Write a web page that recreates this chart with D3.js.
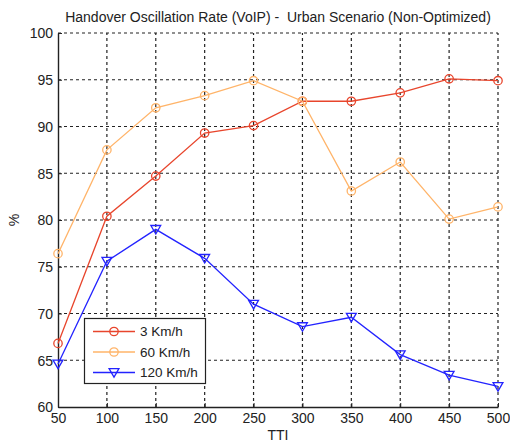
<!DOCTYPE html>
<html>
<head>
<meta charset="utf-8">
<script src="https://cdn.jsdelivr.net/npm/d3@7"></script>
<style>
  html, body { margin: 0; padding: 0; background: #fff; }
  svg { display: block; font-family: "Liberation Sans", Arial, sans-serif; }
</style>
</head>
<body>
<svg id="chart" width="510" height="443"></svg>
<script>
// TTI values on the x axis
const tti = [50, 100, 150, 200, 250, 300, 350, 400, 450, 500];

// Handover oscillation rate (%) per UE speed
const speed3 = [66.8, 80.4, 84.7, 89.3, 90.1, 92.7, 92.7, 93.6, 95.1, 94.9];
const speed60 = [76.4, 87.5, 92.0, 93.3, 94.9, 92.7, 83.1, 86.2, 80.1, 81.4];
const speed120 = [64.6, 75.6, 79.0, 75.9, 71.0, 68.6, 69.6, 65.6, 63.4, 62.2];

const seriesNames = ["3 Km/h", "60 Km/h", "120 Km/h"];
const yTicks = [60, 65, 70, 75, 80, 85, 90, 95, 100];

const series = [
  { name: seriesNames[0], values: speed3, color: "#e8452c", marker: "circle" },
  { name: seriesNames[1], values: speed60, color: "#ffb469", marker: "circle" },
  { name: seriesNames[2], values: speed120, color: "#2323ff", marker: "triangle" }
];

const svg = d3.select("#chart");
const margin = { left: 58, right: 12, top: 33, bottom: 36 };
const W = 510, H = 443;
const x = d3.scaleLinear().domain([50, 500]).range([margin.left, W - margin.right]);
const y = d3.scaleLinear().domain([60, 100]).range([H - margin.bottom, margin.top]);

// grid lines
const grid = svg.append("g");
grid.selectAll("line.gx").data(tti.slice(1)).join("line")
  .attr("x1", d => x(d)).attr("x2", d => x(d))
  .attr("y1", y(60)).attr("y2", y(100))
  .attr("stroke", "#222").attr("stroke-width", 1.2).attr("stroke-dasharray", "3,3");
grid.selectAll("line.gy").data(yTicks.slice(1)).join("line")
  .attr("x1", x(50)).attr("x2", x(500))
  .attr("y1", d => y(d)).attr("y2", d => y(d))
  .attr("stroke", "#222").attr("stroke-width", 1.2).attr("stroke-dasharray", "3,3");

// axes
const xAxis = svg.append("g")
  .attr("transform", `translate(0,${y(60)})`)
  .call(d3.axisBottom(x).tickValues(tti).tickSizeInner(-4).tickSizeOuter(0).tickPadding(6));
const yAxis = svg.append("g")
  .attr("transform", `translate(${x(50)},0)`)
  .call(d3.axisLeft(y).tickValues(yTicks).tickSizeInner(-4).tickSizeOuter(0).tickPadding(5));
[xAxis, yAxis].forEach(a => {
  a.select(".domain").attr("stroke", "#222").attr("stroke-width", 1.4);
  a.selectAll(".tick line").attr("stroke", "#222");
  a.selectAll(".tick text").attr("fill", "#222").style("font-size", "14px")
    .style("font-family", "'Liberation Sans', Arial, sans-serif");
});
yAxis.selectAll(".tick text").attr("dy", "0.35em");

// lines and markers
const line = d3.line().x((d, i) => x(tti[i])).y(d => y(d));
const tri = d3.symbol().type(d3.symbolTriangle).size(42);

function drawMarker(g, s, cx, cy) {
  if (s.marker === "circle") {
    g.append("circle").attr("cx", cx).attr("cy", cy).attr("r", 4.2)
      .attr("fill", "none").attr("stroke", s.color).attr("stroke-width", 1.3);
  } else {
    g.append("path").attr("d", tri)
      .attr("transform", `translate(${cx},${cy - 1}) rotate(180)`)
      .attr("fill", "none").attr("stroke", s.color).attr("stroke-width", 1.3);
  }
}

series.forEach(s => {
  const g = svg.append("g");
  g.append("path").datum(s.values).attr("d", line)
    .attr("fill", "none").attr("stroke", s.color).attr("stroke-width", 1.3);
  s.values.forEach((v, i) => drawMarker(g, s, x(tti[i]), y(v)));
});

// legend
const lg = svg.append("g");
lg.append("rect").attr("x", 84.5).attr("y", 318.5).attr("width", 121).attr("height", 65)
  .attr("fill", "#fff").attr("stroke", "#222").attr("stroke-width", 1.2);
series.forEach((s, i) => {
  const ly = 331.5 + i * 20.5;
  lg.append("line").attr("x1", 93).attr("x2", 135).attr("y1", ly).attr("y2", ly)
    .attr("stroke", s.color).attr("stroke-width", 1.3);
  drawMarker(lg, s, 114, ly);
  lg.append("text").attr("x", 140).attr("y", ly).attr("dy", "0.36em")
    .attr("fill", "#222").style("font-size", "13.5px").text(s.name);
});

// titles
svg.append("text").attr("x", 278).attr("y", 22).attr("text-anchor", "middle")
  .attr("fill", "#222").style("font-size", "14px").style("white-space", "pre")
  .text("Handover Oscillation Rate (VoIP) -  Urban Scenario (Non-Optimized)");
svg.append("text").attr("x", 278).attr("y", 440).attr("text-anchor", "middle")
  .attr("fill", "#222").style("font-size", "14px").text("TTI");
svg.append("text").attr("transform", `translate(19,${y(80)}) rotate(-90)`)
  .attr("text-anchor", "middle").attr("fill", "#222").style("font-size", "14px").text("%");
</script>
</body>
</html>
